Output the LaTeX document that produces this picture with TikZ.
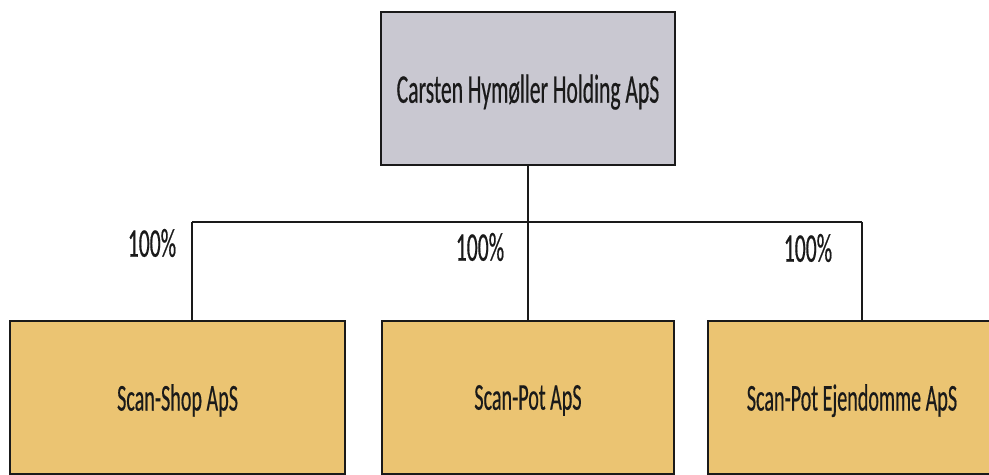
\documentclass[tikz,border=0pt]{standalone}
\usepackage{fontspec}
\setmainfont{Carlito}[FakeStretch=0.53, FakeBold=0.4]
\definecolor{orgink}{HTML}{1A1A1A}
\definecolor{orggrey}{HTML}{C9C8D1}
\definecolor{orggold}{HTML}{EBC472}
\tikzset{
  bx/.style={draw=orgink, line width=0.9pt, align=center, inner sep=2pt, text=orgink, font=\fontsize{27}{32}\selectfont},
  hold/.style={bx, fill=orggrey, minimum width=7.35cm, minimum height=3.825cm, font=\fontsize{29}{34}\selectfont, text depth=0pt},
  sub/.style={bx, fill=orggold, minimum height=3.825cm, text depth=0pt},
  own/.style={draw=orgink, line width=0.9pt},
  pct/.style={font=\fontsize{29}{34}\selectfont, text=orgink},
}

\begin{document}
\begin{tikzpicture}
    \useasboundingbox (0,0) rectangle (24.725,11.875);
    \node[hold] (holding) at (13.2,9.66) {Carsten Hymøller Holding ApS};
    \node[sub, minimum width=8.375cm] (shop) at (4.44,1.94) {Scan-Shop ApS};
    \node[sub, minimum width=7.3cm] (pot) at (13.2,1.94) {Scan-Pot ApS};
    \node[sub, minimum width=7.2cm] (ejd) at (21.3,1.94) {Scan-Pot Ejendomme ApS};
    \coordinate (busL) at (4.8,6.325);
    \coordinate (busR) at (21.55,6.325);
    \draw[own] (busL) -- (busR);
    \draw[own] (holding.south) -- (holding.south |- busL);
    \draw[own] (busL) -- (busL |- shop.north);
    \draw[own] (holding.south |- busL) -- (pot.north);
    \draw[own] (busR) -- (busR |- ejd.north);
    \node[pct] (pshop) at (3.8,5.8) {100\%};
    \node[pct] (ppot) at (12.0,5.7) {100\%};
    \node[pct] (pejd) at (20.2,5.675) {100\%};
  \end{tikzpicture}
\end{document}
